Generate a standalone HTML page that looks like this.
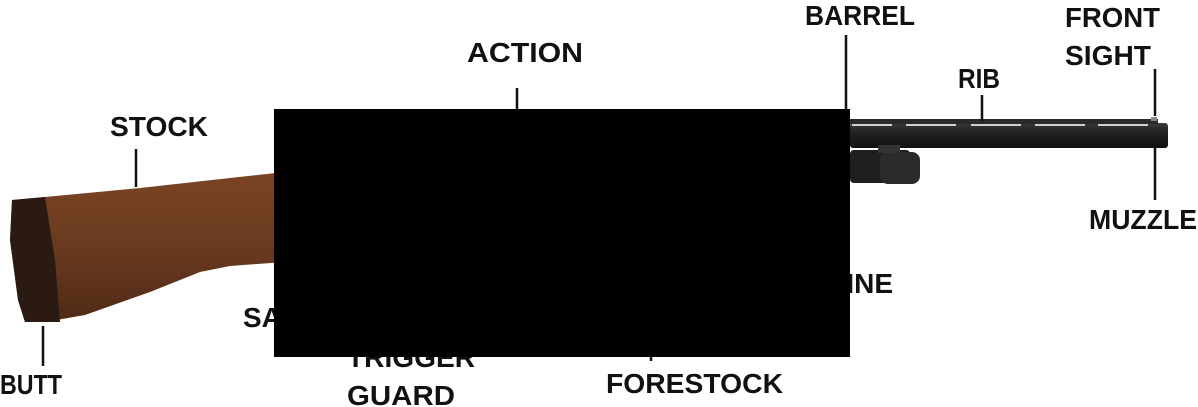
<!DOCTYPE html>
<html><head><meta charset="utf-8">
<style>
html,body{margin:0;padding:0;background:#fff;}
svg{display:block;}
text{font-family:"Liberation Sans",sans-serif;font-weight:bold;font-size:28px;fill:#111;}
</style></head>
<body>
<svg width="1198" height="407" viewBox="0 0 1198 407">
  <defs>
    <linearGradient id="wood" x1="0" y1="0" x2="0" y2="1">
      <stop offset="0" stop-color="#7a4424"/>
      <stop offset="0.5" stop-color="#6a3a1f"/>
      <stop offset="1" stop-color="#4f2a16"/>
    </linearGradient>
    <linearGradient id="metal" x1="0" y1="0" x2="0" y2="1">
      <stop offset="0" stop-color="#3a3a3a"/>
      <stop offset="0.35" stop-color="#222"/>
      <stop offset="1" stop-color="#111"/>
    </linearGradient>
  </defs>

  <path d="M12,200 L45,197 L140,188 L230,178 L285,172 L285,262 L230,266 L200,272 L150,292 L85,315 L45,322 L25,322 L18,300 L10,240 Z" fill="url(#wood)"/>
  <path d="M12,200 L45,197 L55,260 L60,322 L25,322 L18,300 L10,240 Z" fill="#2a1a12"/>

  <rect x="850" y="123" width="318" height="25" rx="3" fill="url(#metal)"/>
  <rect x="850" y="119" width="308" height="5" fill="#2a2a2a"/>
  <g fill="#cfcfcf">
    <rect x="852" y="124" width="40" height="2"/>
    <rect x="906" y="124" width="50" height="2"/>
    <rect x="971" y="124" width="50" height="2"/>
    <rect x="1035" y="124" width="50" height="2"/>
    <rect x="1098" y="124" width="50" height="2"/>
  </g>
  <rect x="1151" y="117" width="6" height="4" fill="#888"/>
  <rect x="850" y="150" width="60" height="33" rx="4" fill="#1f1f1f"/>
  <rect x="880" y="152" width="40" height="32" rx="8" fill="#2b2b2b"/>
  <rect x="878" y="145" width="22" height="8" fill="#333"/>

  <g stroke="#111" stroke-width="2.5">
    <line x1="517" y1="88" x2="517" y2="110"/>
    <line x1="846" y1="35" x2="846" y2="112"/>
    <line x1="982" y1="95" x2="982" y2="121"/>
    <line x1="1155" y1="69" x2="1155" y2="116"/>
    <line x1="1155" y1="148" x2="1155" y2="200"/>
    <line x1="136" y1="149" x2="136" y2="187"/>
    <line x1="43" y1="326" x2="43" y2="366"/>
    <line x1="651" y1="355" x2="651" y2="361"/>
  </g>

  <text x="467" y="62" textLength="116" lengthAdjust="spacingAndGlyphs">ACTION</text>
  <text x="805" y="25" textLength="110" lengthAdjust="spacingAndGlyphs">BARREL</text>
  <text x="1065" y="27" textLength="95" lengthAdjust="spacingAndGlyphs">FRONT</text>
  <text x="1065" y="65" textLength="86" lengthAdjust="spacingAndGlyphs">SIGHT</text>
  <text x="958" y="88" textLength="42" lengthAdjust="spacingAndGlyphs">RIB</text>
  <text x="1089" y="229" textLength="108" lengthAdjust="spacingAndGlyphs">MUZZLE</text>
  <text x="110" y="136" textLength="98" lengthAdjust="spacingAndGlyphs">STOCK</text>
  <text x="0" y="394" textLength="62" lengthAdjust="spacingAndGlyphs">BUTT</text>
  <text x="243" y="327" textLength="110" lengthAdjust="spacingAndGlyphs">SAFETY</text>
  <text x="347" y="367" textLength="128" lengthAdjust="spacingAndGlyphs">TRIGGER</text>
  <text x="347" y="405" textLength="108" lengthAdjust="spacingAndGlyphs">GUARD</text>
  <text x="606" y="393" textLength="177" lengthAdjust="spacingAndGlyphs">FORESTOCK</text>
  <text x="893" y="293" text-anchor="end">MAGAZINE</text>

  <rect x="274" y="109" width="576" height="248" fill="#000"/>
</svg>
</body></html>
